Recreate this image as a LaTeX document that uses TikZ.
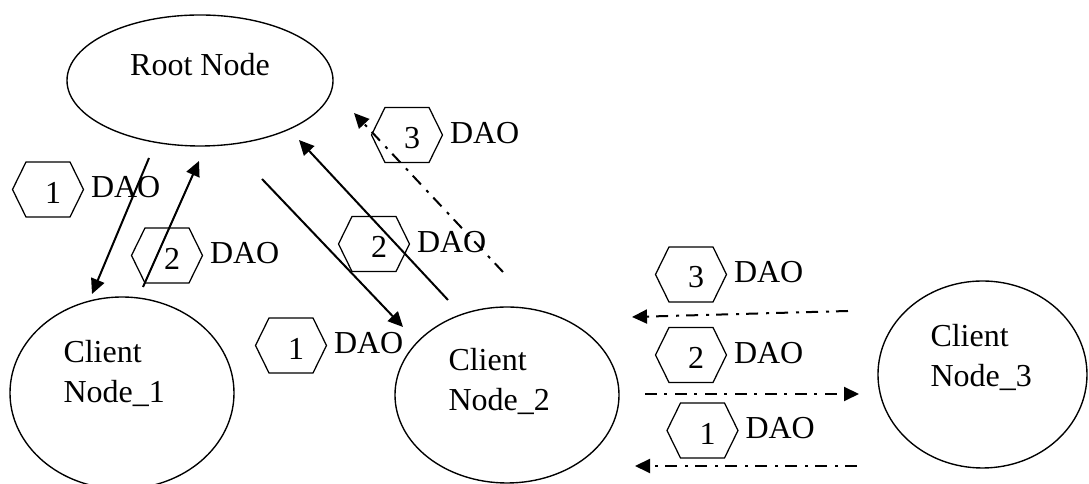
\documentclass[tikz,border=0pt]{standalone}
\usepackage{fontspec}
\setmainfont{Liberation Serif}
\usetikzlibrary{arrows.meta,shapes.geometric,calc}

\tikzset{
  peer/.style={draw, ellipse, line width=0.55pt, inner sep=0pt, outer sep=0pt},
  nodetext/.style={inner sep=0pt, align=left, font=\fontsize{12.8}{16}\selectfont},
  hexline/.style={draw, line width=0.5pt, line join=miter},
  numtxt/.style={inner sep=0pt, font=\fontsize{12.8}{14}\selectfont},
  daotxt/.style={inner sep=0pt, anchor=west, font=\fontsize{12.8}{14}\selectfont},
  msgflow/.style={line width=0.8pt, -{Triangle[length=6pt,width=5.6pt]}},
  relayflow/.style={msgflow, dash pattern=on 4.8pt off 2.8pt on 1.2pt off 3.2pt},
}

% hexagonal message tag: name, centre, sequence number
\newcommand{\msghex}[3]{%
  \coordinate (#1) at (#2);
  \draw[hexline] (#1) ++(-35.5,0) -- ++(13.5,-27.5) -- ++(44,0) -- ++(13.5,27.5)
        -- ++(-13.5,27.5) -- ++(-44,0) -- cycle;
  \node[numtxt] (#1-num) at ($(#1)+(5,3)$) {#3};
  \node[daotxt] (#1-dao) at ($(#1)+(42.5,-2)$) {DAO};
}

\begin{document}
\begin{tikzpicture}[x=0.4pt, y=-0.4pt]
  \useasboundingbox (0,0) rectangle (1089,484);
  \clip (0,0) rectangle (1089,484);

  % network nodes
  \node[peer, minimum width=106.4pt, minimum height=52.4pt] (root) at (200,80.5) {};
  \node[peer, minimum width=89.6pt, minimum height=76.8pt] (c1) at (122,393) {};
  \node[peer, minimum width=89.6pt, minimum height=70.4pt] (c2) at (507,395) {};
  \node[peer, minimum width=83.6pt, minimum height=74.8pt] (c3) at (982.5,374.5) {};

  \node[nodetext] (rootlbl) at (200,65) {Root Node};
  \node[nodetext, anchor=west] (c1lbl) at (63,373) {Client\\Node\_1};
  \node[nodetext, anchor=west] (c2lbl) at (448,381.5) {Client\\Node\_2};
  \node[nodetext, anchor=west] (c3lbl) at (930,357.5) {Client\\Node\_3};

  % message tags
  \msghex{h1a}{48,189.5}{1}
  \msghex{h2a}{167,255.5}{2}
  \msghex{h3a}{407,135}{3}
  \msghex{h2b}{374,244}{2}
  \msghex{h1b}{291,345.5}{1}
  \msghex{h3c}{691,274.5}{3}
  \msghex{h2c}{691,355}{2}
  \msghex{h1c}{702.5,430.5}{1}

  % arrow end points
  \coordinate (a1s) at (149,158);  \coordinate (a1e) at (92,294);
  \coordinate (a2s) at (143,287);  \coordinate (a2e) at (199,161);
  \coordinate (a3s) at (262,179);  \coordinate (a3e) at (403,327);
  \coordinate (a4s) at (448,300);  \coordinate (a4e) at (299,140);
  \coordinate (a5s) at (503,272);  \coordinate (a5e) at (354,113);
  \coordinate (a6s) at (848,311);  \coordinate (a6e) at (632,317);
  \coordinate (a7s) at (645,394);  \coordinate (a7e) at (859,394);
  \coordinate (a8s) at (857,466);  \coordinate (a8e) at (635,466);

  % direct exchanges with the root
  \draw[msgflow] (a1s) -- (a1e);
  \draw[msgflow] (a2s) -- (a2e);
  \draw[msgflow] (a3s) -- (a3e);
  \draw[msgflow] (a4s) -- (a4e);

  % relayed exchanges
  \draw[relayflow] (a5s) -- (a5e);
  \draw[relayflow] (a6s) -- (a6e);
  \draw[relayflow] (a7s) -- (a7e);
  \draw[relayflow] (a8s) -- (a8e);
\end{tikzpicture}
\end{document}
